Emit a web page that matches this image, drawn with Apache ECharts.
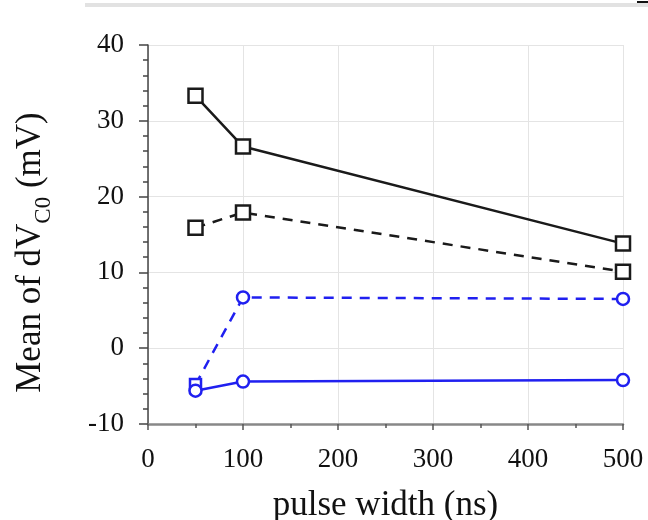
<!DOCTYPE html>
<html><head><meta charset="utf-8">
<script src="https://cdn.jsdelivr.net/npm/echarts@6/dist/echarts.min.js"></script>
<style>html,body{margin:0;padding:0;background:#fff}#c{width:648px;height:520px}</style>
</head><body><div id="c"></div>
<script>
var pulseWidth = [50, 100, 500];
var blackSolid = [33.3, 26.6, 13.8];
var blackDashed = [15.9, 17.9, 10.1];
var blueDashed = [-4.8, 6.7, 6.5];
var blueSolid = [-5.6, -4.4, -4.2];
var xTicks = [0, 100, 200, 300, 400, 500];
var yTicks = [-10, 0, 10, 20, 30, 40];

var FONT = '"Liberation Serif", "DejaVu Serif", serif';
var BLACK = '#1a1a1a', BLUE = '#2020f0', TXT = '#111';

function pts(ys, firstSym) {
  return pulseWidth.map(function (x, i) {
    var d = { value: [x, ys[i]] };
    if (i === 0 && firstSym) { d.symbol = firstSym; d.symbolSize = 11; }
    return d;
  });
}
function ser(ys, color, dashed, sym, firstSym) {
  return {
    type: 'line', data: pts(ys, firstSym), symbol: sym,
    symbolSize: sym === 'rect' ? 14 : 12,
    lineStyle: { color: color, width: 2.5, type: dashed ? [10, 8] : 'solid' },
    itemStyle: { color: '#fff', borderColor: color, borderWidth: 2.5 },
    z: 3
  };
}
var chart = echarts.init(document.getElementById('c'), null, { renderer: 'canvas' });
chart.setOption({
  animation: false,
  backgroundColor: '#fff',
  grid: { left: 148, right: 25, top: 45, bottom: 96, containLabel: false, outerBoundsMode: 'none' },
  xAxis: {
    type: 'value', min: xTicks[0], max: xTicks[xTicks.length - 1], interval: 100,
    name: 'pulse width (ns)', nameLocation: 'middle', nameGap: 64,
    nameTextStyle: { fontFamily: FONT, fontSize: 35, color: TXT },
    axisLine: { show: true, onZero: false, lineStyle: { color: '#888', width: 2.5 } },
    axisTick: { show: true, inside: false, length: 6, lineStyle: { color: '#555', width: 1.5 } },
    minorTick: { show: true, splitNumber: 2, length: 4, lineStyle: { color: '#555', width: 1.5 } },
    splitLine: { show: true, lineStyle: { color: '#e4e4e4', width: 1 } },
    axisLabel: { fontFamily: FONT, fontSize: 27, color: TXT, margin: 22 }
  },
  yAxis: {
    type: 'value', min: yTicks[0], max: yTicks[yTicks.length - 1], interval: 10,
    name: '{n|Mean of dV}{s|C0}{n| (mV)}', nameLocation: 'middle', nameGap: 100,
    nameTextStyle: {
      fontFamily: FONT, fontSize: 35, color: TXT, padding: [0, 36, 0, 0],
      rich: {
        n: { fontFamily: FONT, fontSize: 35, color: TXT, lineHeight: 38, verticalAlign: 'bottom' },
        s: { fontFamily: FONT, fontSize: 23, color: TXT, lineHeight: 24, verticalAlign: 'bottom', padding: [0, 0, -7, 0] }
      }
    },
    axisLine: { show: true, onZero: false, lineStyle: { color: '#444', width: 1.5 } },
    axisTick: { show: true, inside: false, length: 9, lineStyle: { color: '#444', width: 1.5 } },
    minorTick: { show: true, splitNumber: 5, length: 5, lineStyle: { color: '#444', width: 1.5 } },
    splitLine: { show: true, lineStyle: { color: '#e4e4e4', width: 1 } },
    axisLabel: { fontFamily: FONT, fontSize: 27, color: TXT, margin: 24 }
  },
  graphic: [
    { type: 'rect', shape: { x: 85, y: 3, width: 563, height: 4 }, style: { fill: '#e2e2e2' }, silent: true },
    { type: 'rect', shape: { x: 637, y: 1, width: 11, height: 2 }, style: { fill: '#111' }, silent: true }
  ],
  series: [
    ser(blackSolid, BLACK, false, 'rect'),
    ser(blackDashed, BLACK, true, 'rect'),
    ser(blueDashed, BLUE, true, 'circle', 'rect'),
    ser(blueSolid, BLUE, false, 'circle')
  ]
});
</script></body></html>
